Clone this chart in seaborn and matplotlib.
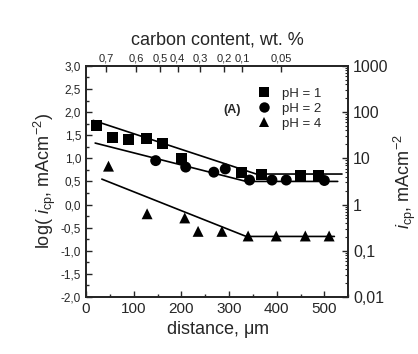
import numpy as np
import pandas as pd
import matplotlib
matplotlib.use("Agg")
import matplotlib.pyplot as plt
import seaborn as sns
from matplotlib.ticker import MultipleLocator, LogLocator, NullFormatter

ph1_x = [22, 56, 89, 126, 160, 200, 326, 369, 449, 488]
ph1_y = [1.71, 1.46, 1.40, 1.42, 1.33, 0.99, 0.70, 0.64, 0.63, 0.63]
ph2_x = [146, 209, 268, 292, 343, 390, 420, 500]
ph2_y = [0.95, 0.81, 0.70, 0.77, 0.53, 0.53, 0.53, 0.52]
ph4_x = [47, 128, 207, 235, 285, 340, 399, 460, 510]
ph4_y = [0.83, -0.20, -0.29, -0.58, -0.58, -0.68, -0.68, -0.68, -0.68]

# Fitted two-segment lines
fit1_x = [15, 357, 537]
fit1_y = [1.82, 0.66, 0.66]
fit2_x = [19, 336, 528]
fit2_y = [1.33, 0.50, 0.50]
fit4_x = [33, 336, 521]
fit4_y = [0.55, -0.69, -0.69]

labels = ["pH = 1", "pH = 2", "pH = 4"]

# Axis ticks
left_ticks = [-2.0, -1.5, -1.0, -0.5, 0.0, 0.5, 1.0, 1.5, 2.0, 2.5, 3.0]
left_labels = ["-2,0", "-1,5", "-1,0", "-0,5", "0,0", "0,5", "1,0", "1,5", "2,0", "2,5", "3,0"]
right_ticks = [0.01, 0.1, 1, 10, 100, 1000]
right_labels = ["0,01", "0,1", "1", "10", "100", "1000"]
top_ticks = [42, 105, 155, 192, 240, 289, 328, 409]
top_labels = ["0,7", "0,6", "0,5", "0,4", "0,3", "0,2", "0,1", "0,05"]
bottom_ticks = [0, 100, 200, 300, 400, 500]

sns.set_style("ticks")
plt.rcParams["font.family"] = ["Liberation Sans", "DejaVu Sans"]
plt.rcParams["mathtext.fontset"] = "custom"
plt.rcParams["mathtext.rm"] = "Liberation Sans"
plt.rcParams["mathtext.it"] = "Liberation Sans:italic"
plt.rcParams["axes.linewidth"] = 1.2
plt.rcParams["xtick.direction"] = "in"
plt.rcParams["ytick.direction"] = "in"

pts = pd.DataFrame({
    "x": ph1_x + ph2_x + ph4_x,
    "y": ph1_y + ph2_y + ph4_y,
    "pH": [labels[0]] * len(ph1_x) + [labels[1]] * len(ph2_x) + [labels[2]] * len(ph4_x),
})

fig = plt.figure(figsize=(4.18, 3.54), dpi=100)
ax = fig.add_axes([0.206, 0.161, 0.627, 0.653])

for fx, fy in [(fit1_x, fit1_y), (fit2_x, fit2_y), (fit4_x, fit4_y)]:
    sns.lineplot(x=fx, y=fy, ax=ax, color="black", lw=1.2, sort=False, estimator=None)

sns.scatterplot(data=pts, x="x", y="y", style="pH", markers={labels[0]: "s", labels[1]: "o", labels[2]: "^"},
                color="black", s=62, edgecolor="black", linewidth=0, ax=ax, zorder=3)

ax.set_xlim(0, 550)
ax.set_ylim(-2.0, 3.0)
ax.set_yticks(left_ticks)
ax.set_yticklabels(left_labels, fontsize=8.5)
ax.yaxis.set_minor_locator(MultipleLocator(0.25))
ax.set_xticks(bottom_ticks)
ax.set_xticklabels([str(t) for t in bottom_ticks], fontsize=11)
ax.xaxis.set_minor_locator(MultipleLocator(50))
ax.tick_params(which="major", length=4, width=1.0)
ax.tick_params(which="minor", length=2.5, width=1.0)
ax.set_xlabel(r"distance, $\mathrm{\mu}$m", fontsize=13, labelpad=2)
ax.set_ylabel(r"log( $\it{i}$$_{\rm cp}$, mAcm$^{-2}$)", fontsize=13, labelpad=2)

leg = ax.legend(loc="upper left", bbox_to_anchor=(0.655, 0.905), frameon=False, fontsize=9.5,
                handlelength=1.0, handletextpad=0.8, labelspacing=0.2, borderpad=0, borderaxespad=0)
for h in leg.legend_handles:
    h.set_markersize(7.5)
    h.set_color("black")
ax.text(307, 2.05, "(A)", fontsize=9, fontweight="bold", ha="center", va="center")

# Right log axis
axr = ax.twinx()
axr.set_yscale("log")
axr.set_ylim(0.01, 1000)
axr.set_yticks(right_ticks)
axr.set_yticklabels(right_labels, fontsize=11.5)
axr.yaxis.set_minor_locator(LogLocator(base=10, subs=np.arange(2, 10)))
axr.yaxis.set_minor_formatter(NullFormatter())
axr.tick_params(which="major", length=4, width=1.0)
axr.tick_params(which="minor", length=2, width=0.8)
axr.set_ylabel(r"$\it{i}$$_{\rm cp}$, mAcm$^{-2}$", fontsize=13, labelpad=2)

# Top carbon-content axis
axt = ax.twiny()
axt.set_xlim(ax.get_xlim())
axt.set_xticks(top_ticks)
axt.set_xticklabels(top_labels, fontsize=8)
axt.tick_params(which="major", length=4, width=1.0, pad=2)
axt.set_xlabel("carbon content, wt. %", fontsize=13, labelpad=6)

for a in (ax, axr, axt):
    for s in a.spines.values():
        s.set_visible(True)
        s.set_linewidth(1.2)

fig.savefig("out.png", dpi=100)
plt.close(fig)
